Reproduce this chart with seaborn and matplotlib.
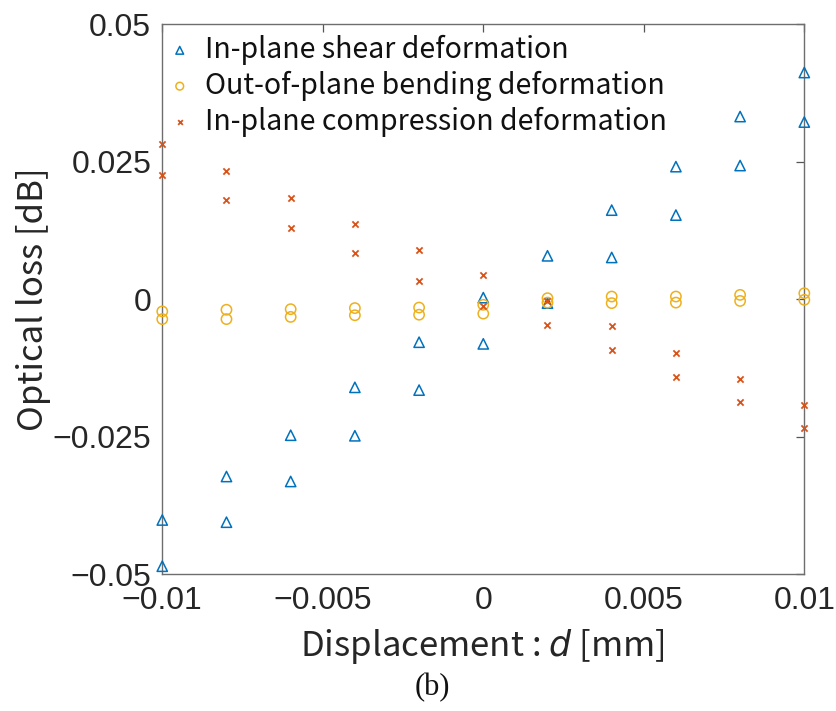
import matplotlib
matplotlib.use("Agg")
import matplotlib.pyplot as plt
import seaborn as sns
import pandas as pd

# Displacement steps [mm]; each step was measured twice
displacement = [-0.01, -0.008, -0.006, -0.004, -0.002, 0.0,
                0.002, 0.004, 0.006, 0.008, 0.01]

shear_run1 = [-0.0401, -0.0322, -0.0247, -0.0160, -0.0078, 0.0003,
              0.0079, 0.0162, 0.0241, 0.0332, 0.0412]
shear_run2 = [-0.0485, -0.0405, -0.0331, -0.0248, -0.0165, -0.0081,
              -0.0007, 0.0076, 0.0153, 0.0243, 0.0322]

bending_run1 = [-0.0022, -0.0019, -0.0018, -0.0016, -0.0015, -0.0010,
                0.0002, 0.0005, 0.0005, 0.0008, 0.0011]
bending_run2 = [-0.0036, -0.0036, -0.0032, -0.0029, -0.0028, -0.0026,
                -0.0006, -0.0007, -0.0006, -0.0003, -0.0001]

compression_run1 = [0.0282, 0.0233, 0.0184, 0.0137, 0.0090, 0.0044,
                    -0.0003, -0.0048, -0.0098, -0.0144, -0.0192]
compression_run2 = [0.0225, 0.0180, 0.0129, 0.0084, 0.0033, -0.0012,
                    -0.0046, -0.0093, -0.0141, -0.0186, -0.0234]

series_names = ["In-plane shear deformation",
                "Out-of-plane bending deformation",
                "In-plane compression deformation"]
series_colors = ["#0072BD", "#EDB120", "#D95319"]

x_ticks = [-0.01, -0.005, 0.0, 0.005, 0.01]
x_tick_labels = ["\u22120.01", "\u22120.005", "0", "0.005", "0.01"]
y_ticks = [-0.05, -0.025, 0.0, 0.025, 0.05]
y_tick_labels = ["\u22120.05", "\u22120.025", "0", "0.025", "0.05"]

frames = []
for name, r1, r2 in zip(series_names,
                        [shear_run1, bending_run1, compression_run1],
                        [shear_run2, bending_run2, compression_run2]):
    frames.append(pd.DataFrame({"d": displacement * 2, "loss": r1 + r2,
                                "series": name}))
df = pd.concat(frames, ignore_index=True)

sns.set_theme(style="white")
plt.rcParams["font.family"] = ["Noto Sans CJK JP", "DejaVu Sans"]
plt.rcParams["axes.unicode_minus"] = True

fig = plt.figure(figsize=(8.36, 7.11), dpi=100)
ax = fig.add_axes([0.1941, 0.192, 0.768, 0.7741])

marker_styles = {
    series_names[0]: dict(marker="^", s=55, facecolor="none", linewidth=1.1),
    series_names[1]: dict(marker="o", s=55, facecolor="none", linewidth=1.1),
    series_names[2]: dict(marker="x", s=20, linewidth=1.3),
}
for name, color in zip(series_names, series_colors):
    sub = df[df["series"] == name]
    kws = dict(marker_styles[name])
    if kws.get("facecolor") == "none":
        kws["edgecolor"] = color
    sns.scatterplot(data=sub, x="d", y="loss", ax=ax, color=color,
                    label=name, clip_on=False, zorder=3, **kws)

ax.set_xlim(-0.01, 0.01)
ax.set_ylim(-0.05, 0.05)
ax.set_xticks(x_ticks)
ax.set_yticks(y_ticks)

tick_font = dict(family=["Liberation Sans", "DejaVu Sans"],
                 size=23, color="#262626")
ax.set_xticklabels(x_tick_labels, **tick_font)
ax.set_yticklabels(y_tick_labels, **tick_font)
ax.tick_params(axis="both", which="both", direction="in", length=6,
               width=0.9, color="#555555", top=True, right=True, pad=8)

for side in ["left", "right", "top", "bottom"]:
    ax.spines[side].set_visible(True)
    ax.spines[side].set_color("#6e6e6e")
    ax.spines[side].set_linewidth(1.0)

ax.set_xlabel("")
ax.set_ylabel("")
fig.text(0.577, 0.077, "Displacement : $\\it{d}$ [mm]", ha="center",
         va="baseline", fontsize=25, color="#262626",
         family=["Noto Sans CJK JP", "DejaVu Sans"])
fig.text(0.040, 0.579, "Optical loss [dB]", ha="center", va="center",
         rotation=90, fontsize=25, color="#262626",
         family=["Noto Sans CJK JP", "DejaVu Sans"])

leg = ax.legend(loc="upper left", bbox_to_anchor=(-0.026, 1.012), frameon=False,
                fontsize=20.5, handletextpad=0.3, labelspacing=0.2,
                borderaxespad=0.2, handlelength=1.2, markerscale=0.75)
for t in leg.get_texts():
    t.set_color("#111111")

fig.text(0.517, 0.022, "(b)", ha="center", va="baseline", fontsize=22,
         family=["Liberation Serif", "DejaVu Serif"], color="#111111")

fig.savefig("out.png", dpi=100, facecolor="white")
